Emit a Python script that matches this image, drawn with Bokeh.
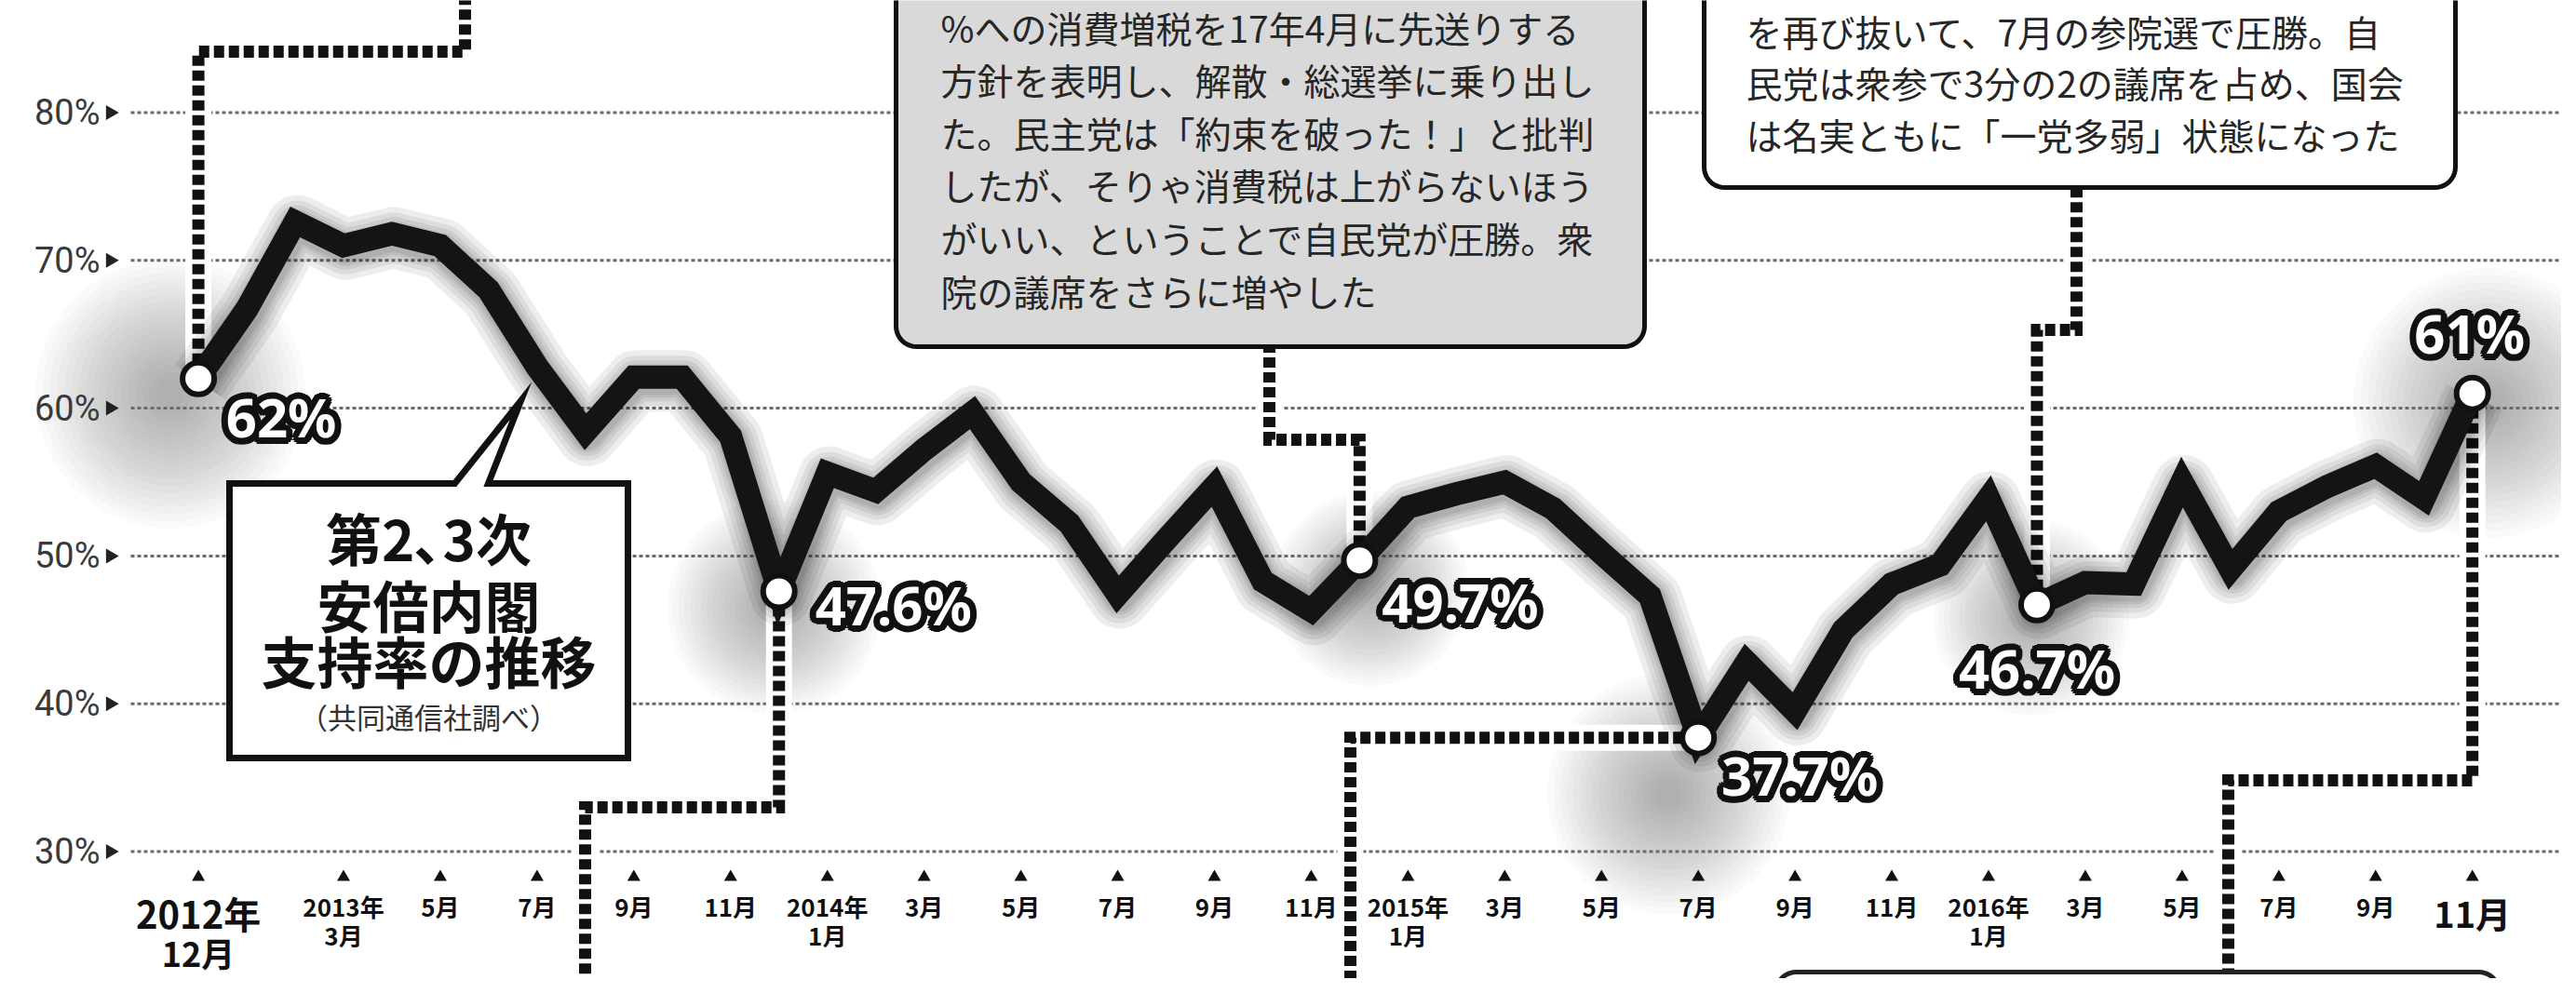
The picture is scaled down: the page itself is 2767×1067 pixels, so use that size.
import math
from bokeh.plotting import figure
from bokeh.models import Range1d
from bokeh.embed import file_html
from bokeh.resources import INLINE
from bokeh.core.properties import value

# ---------------- data ----------------
# month index 0 = 2012年12月 ... 47 = 2016年11月 (Kyodo monthly approval, %)
months = list(range(48))
approval = [62.0, 66.7, 72.6, 71.0, 71.8, 71.0, 68.0, 62.8, 58.4, 62.1, 62.1, 58.1, 47.6,
            55.6, 54.4, 57.2, 59.7, 55.0, 52.2, 47.4, 51.1, 54.7, 48.3, 46.3, 49.7,
            53.3, 54.2, 55.0, 53.2, 50.2, 47.3, 37.7, 42.8, 39.5, 45.0, 48.1, 49.4,
            53.9, 46.7, 48.2, 48.1, 55.0, 49.1, 53.0, 54.7, 56.1, 53.9, 61.0]
highlight_idx = [0, 12, 24, 31, 38, 47]
highlight_text = ["62%", "47.6%", "49.7%", "37.7%", "46.7%", "61%"]

y_ticks = [30, 40, 50, 60, 70, 80]
y_tick_labels = ["30%", "40%", "50%", "60%", "70%", "80%"]

tick_months = [0, 3, 5, 7, 9, 11, 13, 15, 17, 19, 21, 23, 25, 27, 29, 31, 33, 35, 37, 39, 41, 43, 45, 47]
tick_top = ["2012年", "2013年", "5月", "7月", "9月", "11月", "2014年", "3月", "5月", "7月", "9月", "11月",
            "2015年", "3月", "5月", "7月", "9月", "11月", "2016年", "3月", "5月", "7月", "9月", "11月"]
tick_bottom = ["12月", "3月", "", "", "", "", "1月", "", "", "", "", "",
               "1月", "", "", "", "", "", "1月", "", "", "", "", ""]
big_ticks = [0, 23]

title_lines = ["第2､3次", "安倍内閣", "支持率の推移"]
source_line = "（共同通信社調べ）"

note1_lines = ["%への消費増税を17年4月に先送りする",
               "方針を表明し、解散・総選挙に乗り出し",
               "た。民主党は「約束を破った！」と批判",
               "したが、そりゃ消費税は上がらないほう",
               "がいい、ということで自民党が圧勝。衆",
               "院の議席をさらに増やした"]
note2_lines = ["を再び抜いて、7月の参院選で圧勝。自",
               "民党は衆参で3分の2の議席を占め、国会",
               "は名実ともに「一党多弱」状態になった"]

# ---------------- geometry (pixel <-> data) ----------------
W, H = 2751, 1051
PX0, PXM = 220.6, 51.97      # pixel x of month 0, pixels per month
PY80, PYP = 128.5, 15.88     # pixel y of 80%, pixels per percent


def dx(px):
    return (px - PX0) / PXM


def dy(py):
    return 80.0 - (py - PY80) / PYP


def sx(m):
    return PX0 + m * PXM


def sy(v):
    return PY80 + (80.0 - v) * PYP


JP = value("Noto Sans CJK JP")

p = figure(width=W, height=H,
           x_range=Range1d(dx(8), dx(8 + W)), y_range=Range1d(dy(8 + H), dy(8)),
           output_backend="svg", toolbar_location=None,
           x_axis_location=None, y_axis_location=None, min_border=0)
p.outline_line_color = None
p.background_fill_color = "white"
p.border_fill_color = "white"
p.grid.visible = False

hx = [months[i] for i in highlight_idx]
hy = [approval[i] for i in highlight_idx]

# ---------------- soft glows around highlighted points ----------------
glow_off = [(-30, 16), (-5, 17), (12, 30), (-32, 60), (-6, 14), (17, 10)]
glow_d = [290, 230, 210, 260, 210, 290]
gx = [dx(sx(m) + o[0]) for m, o in zip(hx, glow_off)]
gy = [dy(sy(v) + o[1]) for v, o in zip(hy, glow_off)]
for k in range(18):
    f = 1.0 - k / 19.0
    p.scatter(gx, gy, size=[d * f for d in glow_d], marker="circle",
              fill_color="#505050", fill_alpha=0.028, line_color=None)

# ---------------- gridlines + y labels ----------------
p.segment(x0=[dx(148)] * len(y_ticks), y0=y_ticks, x1=[dx(2775)] * len(y_ticks), y1=y_ticks,
          line_color="#6a6a6a", line_width=3, line_dash="4 3")
p.text(x=[dx(115)] * len(y_ticks), y=y_ticks, text=y_tick_labels,
       text_font=value("Roboto"), text_font_size=value("38px"), text_color="#3a3a3a",
       text_align="right", text_baseline="middle")
p.scatter(x=[dx(126)] * len(y_ticks), y=y_ticks, marker="triangle", size=16,
          angle=-math.pi / 2, fill_color="#222222", line_color=None)

# ---------------- dashed leader lines ----------------
leaders = {
    0: [(None, 63), (507, 63), (507, -30)],
    12: [(None, 875), (636, 875), (636, 1090)],
    24: [(None, 480), (1371, 480), (1371, 382)],
    31: [(1458, None), (1458, 1090)],
    38: [(None, 362), (2238, 362), (2238, 210)],
    47: [(None, 846), (2401, 846), (2401, 1090)],
}
lxs, lys = [], []
for i, wps in leaders.items():
    px, py = sx(months[i]), sy(approval[i])
    xs, ys = [px], [py]
    for wx, wy in wps:
        wx = px if wx is None else wx
        wy = py if wy is None else wy
        xs.append(wx)
        ys.append(wy)
    lxs.append([dx(v) for v in xs])
    lys.append([dy(v) for v in ys])
p.multi_line(lxs, lys, line_color="white", line_width=28, line_join="miter")
p.multi_line(lxs, lys, line_color="#111111", line_width=13, line_dash="11 5",
             line_join="miter", line_cap="butt")

# ---------------- main line with soft shadow ----------------
shx = [m + 2.0 / PXM for m in months]
shy = [v - 4.0 / PYP for v in approval]
for w in [66, 54, 44, 36, 30]:
    p.line(shx, shy, line_color="black", line_alpha=0.07, line_width=w, line_join="round")
p.line(months, approval, line_color="#141414", line_width=25, line_join="miter")

p.scatter(hx, hy, marker="circle", size=34, fill_color="white",
          line_color="#111111", line_width=6)

# ---------------- outlined value labels ----------------
lab_off = [(89, 41), (123, 14), (108, 44), (109, 40), (0, 68), (-3, -65)]
lx = [dx(sx(m) + o[0]) for m, o in zip(hx, lab_off)]
ly = [dy(sy(v) + o[1]) for v, o in zip(hy, lab_off)]
for k in range(16):
    a = 2 * math.pi * k / 16
    p.text(lx, ly, text=highlight_text, x_offset=7 * math.cos(a), y_offset=7 * math.sin(a),
           text_font=value("Noto Sans"), text_font_style="bold", text_font_size=value("58px"),
           text_color="#111111", text_align="center", text_baseline="middle")
p.text(lx, ly, text=highlight_text,
       text_font=value("Noto Sans"), text_font_style="bold", text_font_size=value("58px"),
       text_color="white", text_align="center", text_baseline="middle")


# ---------------- note boxes ----------------
def rrect(l, t, r, b, rad, n=10):
    pts = []
    for cx, cy, a0 in [(r - rad, t + rad, -90), (r - rad, b - rad, 0),
                       (l + rad, b - rad, 90), (l + rad, t + rad, 180)]:
        for k in range(n + 1):
            a = math.radians(a0 + 90.0 * k / n)
            pts.append((cx + rad * math.cos(a), cy + rad * math.sin(a)))
    return [dx(x) for x, _ in pts], [dy(y) for _, y in pts]


bx, by = rrect(970, -80, 1774, 380, 22)
p.patch(bx, by, fill_color="#d9d9d9", line_color="#111111", line_width=5)
p.text(x=[dx(1018)] * len(note1_lines), y=[dy(36 + 56.6 * i) for i in range(len(note1_lines))],
       text=note1_lines, text_font=JP, text_font_size=value("39px"), text_color="#262626",
       text_align="left", text_baseline="middle")

bx, by = rrect(1838, -80, 2645, 209, 22)
p.patch(bx, by, fill_color="white", line_color="#111111", line_width=5)
p.text(x=[dx(1883)] * len(note2_lines), y=[dy(40 + 55.5 * i) for i in range(len(note2_lines))],
       text=note2_lines, text_font=JP, text_font_size=value("39px"), text_color="#262626",
       text_align="left", text_baseline="middle")

bx, by = rrect(1915, 1052, 2692, 1250, 22)
p.patch(bx, by, fill_color="white", line_color="#222222", line_width=5)

# speech bubble with title
bub = [(254, 527), (496, 527), (567, 438), (532, 527), (682, 527), (682, 822), (254, 822)]
p.patch([dx(x) for x, _ in bub], [dy(y) for _, y in bub], fill_color="white",
        line_color="#111111", line_width=7, line_join="miter")
p.text(x=[dx(468)] * 3, y=[dy(584), dy(656), dy(716)], text=title_lines,
       text_font=JP, text_font_style="bold", text_font_size=value("60px"),
       text_color="#111111", text_align="center", text_baseline="middle")
p.text(x=[dx(468)], y=[dy(777)], text=[source_line], text_font=JP,
       text_font_size=value("31px"), text_color="#333333",
       text_align="center", text_baseline="middle")

# ---------------- x ticks ----------------
p.scatter(x=tick_months, y=[dy(950)] * len(tick_months), marker="triangle", size=14,
          fill_color="#111111", line_color=None)
small = [i for i in range(len(tick_months)) if i not in big_ticks]
p.text(x=[tick_months[i] for i in small], y=[dy(981)] * len(small),
       text=[tick_top[i] for i in small], text_font=JP, text_font_style="bold",
       text_font_size=value("26px"), text_color="#111111",
       text_align="center", text_baseline="middle")
sb = [i for i in small if tick_bottom[i]]
p.text(x=[tick_months[i] for i in sb], y=[dy(1012)] * len(sb),
       text=[tick_bottom[i] for i in sb], text_font=JP, text_font_style="bold",
       text_font_size=value("26px"), text_color="#111111",
       text_align="center", text_baseline="middle")
# big first / last labels
p.text(x=[tick_months[0]], y=[dy(988)], text=[tick_top[0]], text_font=JP, text_font_style="bold",
       text_font_size=value("40px"), text_color="#111111", text_align="center", text_baseline="middle")
p.text(x=[tick_months[0]], y=[dy(1030)], text=[tick_bottom[0]], text_font=JP, text_font_style="bold",
       text_font_size=value("36px"), text_color="#111111", text_align="center", text_baseline="middle")
p.text(x=[tick_months[23]], y=[dy(988)], text=[tick_top[23]], text_font=JP, text_font_style="bold",
       text_font_size=value("38px"), text_color="#111111", text_align="center", text_baseline="middle")

open("out.html", "w").write(file_html(p, INLINE))
